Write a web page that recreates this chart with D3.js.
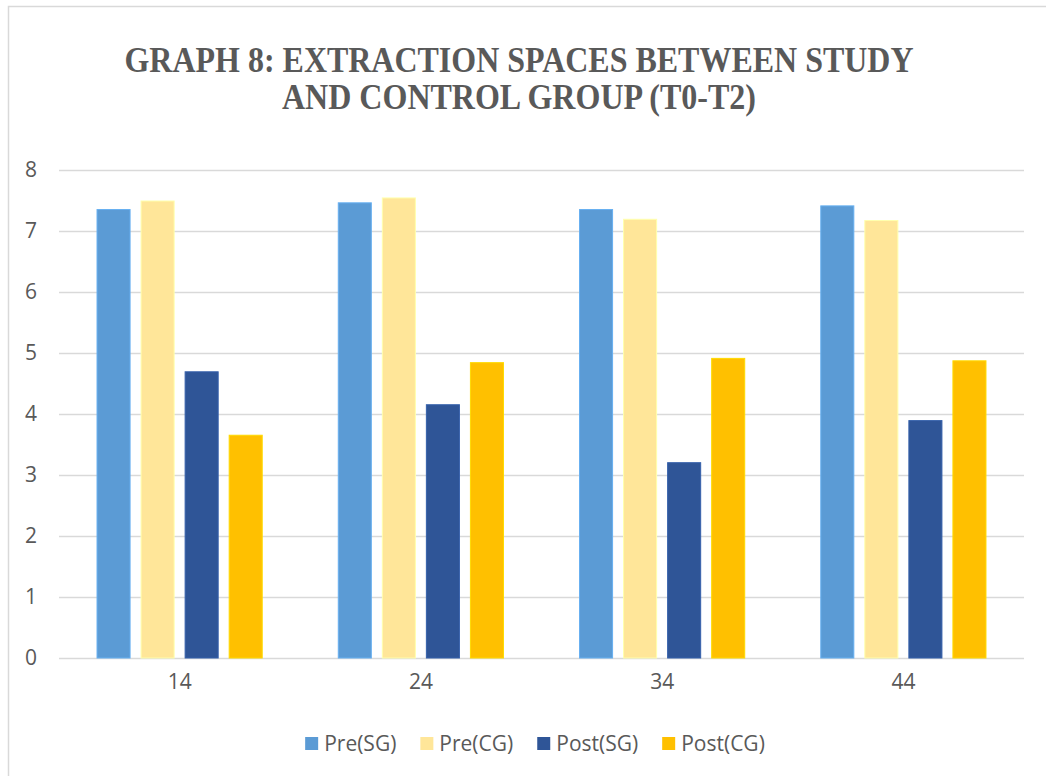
<!DOCTYPE html>
<html>
<head>
<meta charset="utf-8">
<script src="https://cdn.jsdelivr.net/npm/d3@7/dist/d3.min.js"></script>
<style>
  html, body { margin: 0; padding: 0; background: #fff; }
  svg { display: block; }
</style>
</head>
<body>
<svg id="chart" width="1046" height="776"></svg>
<script>
// Tooth positions on the x axis
const categories = ["14", "24", "34", "44"];
// Series names, in drawing order
const seriesNames = ["Pre(SG)", "Pre(CG)", "Post(SG)", "Post(CG)"];
const seriesColors = ["#5B9BD5", "#FFE699", "#2F5597", "#FFC000"];
// Mean extraction space per tooth, one array per series
const preSG  = [7.36, 7.47, 7.36, 7.42];
const preCG  = [7.50, 7.55, 7.20, 7.18];
const postSG = [4.70, 4.16, 3.21, 3.90];
const postCG = [3.66, 4.85, 4.92, 4.88];
const seriesValues = [preSG, preCG, postSG, postCG];
const yTicks = [0, 1, 2, 3, 4, 5, 6, 7, 8];
const titleLines = ["GRAPH 8: EXTRACTION SPACES BETWEEN STUDY", "AND CONTROL GROUP (T0-T2)"];

const svg = d3.select("#chart");
const textColor = "#595959";
const plot = { left: 59, right: 1024, top: 170, bottom: 658 };

// Chart frame
svg.append("path")
  .attr("d", "M8.5,776 V6.5 H1046")
  .attr("fill", "none")
  .attr("stroke", "#d9d9d9")
  .attr("stroke-width", 1.5);

// Title
const titleG = svg.append("g")
  .attr("font-family", "'Liberation Serif', 'Times New Roman', serif")
  .attr("font-weight", "bold")
  .attr("font-size", 36)
  .attr("fill", textColor)
  .attr("text-anchor", "middle");
const titleSpec = [{ y: 72, w: 789 }, { y: 109, w: 474 }];
titleLines.forEach((t, i) => {
  titleG.append("text")
    .attr("x", 519)
    .attr("y", titleSpec[i].y)
    .attr("textLength", titleSpec[i].w)
    .attr("lengthAdjust", "spacingAndGlyphs")
    .text(t);
});

// Scales
const y = d3.scaleLinear().domain([0, 8]).range([plot.bottom, plot.top]);
const x0 = d3.scaleBand().domain(categories).range([plot.left, plot.right]).paddingInner(0).paddingOuter(0);
const x1 = d3.scaleBand().domain(seriesNames).range([0, x0.bandwidth()])
  .paddingInner(0.227).paddingOuter(0.852);

// Gridlines
svg.append("g")
  .selectAll("line")
  .data(yTicks)
  .join("line")
  .attr("x1", plot.left)
  .attr("x2", plot.right)
  .attr("y1", d => Math.round(y(d)) + 0.5)
  .attr("y2", d => Math.round(y(d)) + 0.5)
  .attr("stroke", "#d9d9d9")
  .attr("stroke-width", 1.6);

// Y axis labels
const yAxis = d3.axisLeft(y).tickValues(yTicks).tickSize(0).tickPadding(0).tickFormat(d3.format("d"));
const yG = svg.append("g").attr("transform", "translate(37,0)").call(yAxis);
yG.select(".domain").remove();
yG.selectAll("text")
  .attr("font-family", "'Open Sans', sans-serif")
  .attr("font-size", 21)
  .attr("fill", textColor);

// Bars
const rows = categories.map((c, i) => ({ cat: c, vals: seriesNames.map((s, j) => ({ s, j, v: seriesValues[j][i] })) }));
const groups = svg.append("g").selectAll("g")
  .data(rows)
  .join("g")
  .attr("transform", d => `translate(${x0(d.cat)},0)`);
groups.selectAll("rect")
  .data(d => d.vals)
  .join("rect")
  .attr("x", d => x1(d.s) + 0.5)
  .attr("y", d => y(d.v) + 0.5)
  .attr("width", x1.bandwidth() - 1)
  .attr("height", d => y(0) - y(d.v) - 0.5)
  .attr("fill", d => seriesColors[d.j])
  .attr("stroke", d => d3.color(seriesColors[d.j]).brighter(0.35))
  .attr("stroke-width", 1);

// X axis labels
const xAxis = d3.axisBottom(x0).tickSize(0).tickPadding(0);
const xG = svg.append("g").attr("transform", `translate(0,${plot.bottom + 16})`).call(xAxis);
xG.select(".domain").remove();
xG.selectAll("text")
  .attr("font-family", "'Open Sans', sans-serif")
  .attr("font-size", 21)
  .attr("fill", textColor);

// Legend
const legend = svg.append("g")
  .attr("font-family", "'Open Sans', sans-serif")
  .attr("font-size", 21)
  .attr("fill", textColor);
const items = legend.selectAll("g").data(seriesNames).join("g");
items.append("rect")
  .attr("width", 13).attr("height", 13)
  .attr("y", 737)
  .attr("fill", (d, i) => seriesColors[i]);
items.append("text")
  .attr("x", 19)
  .attr("y", 751)
  .text(d => d);
let cursor = 0;
const offsets = [];
items.each(function () {
  offsets.push(cursor);
  const w = d3.select(this).select("text").node().getComputedTextLength();
  cursor += 19 + w + 24;
});
const totalW = cursor - 24;
const startX = 535 - totalW / 2;
items.attr("transform", (d, i) => `translate(${startX + offsets[i]},0)`);
</script>
</body>
</html>
